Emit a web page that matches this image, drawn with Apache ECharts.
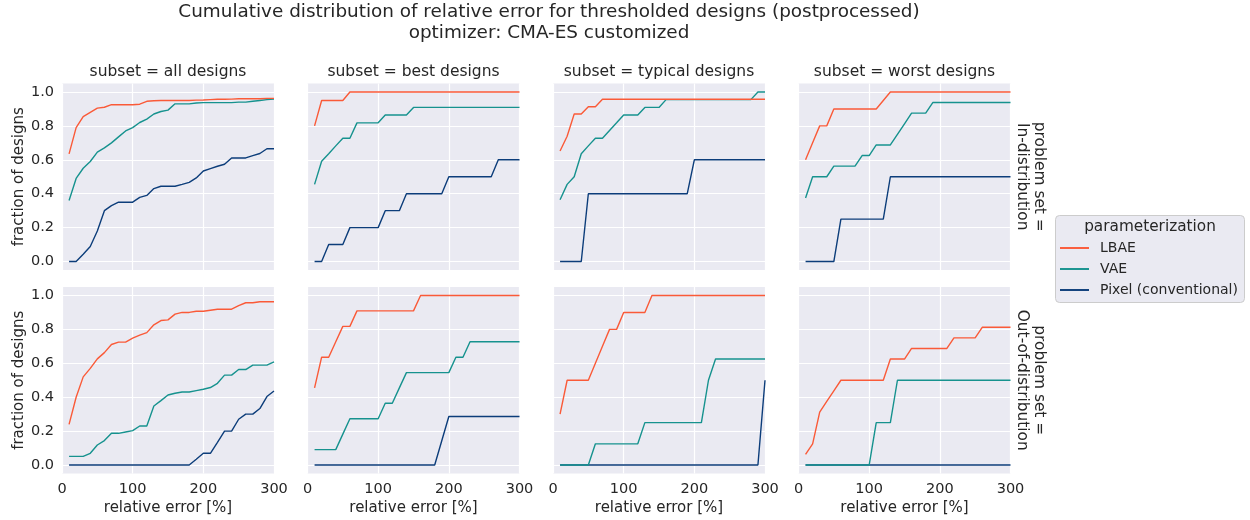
<!DOCTYPE html>
<html><head><meta charset="utf-8">
<script src="https://cdn.jsdelivr.net/npm/echarts@6/dist/echarts.min.js"></script>
<style>html,body{margin:0;padding:0;background:#fff}#c{width:1250px;height:520px}</style>
</head><body><div id="c"></div>
<script>
// ---- data ----
const relErr = [10,20,30,40,50,60,70,80,90,100,110,120,130,140,150,160,170,180,190,200,210,220,230,240,250,260,270,280,290,300];
const subsets = ['all designs','best designs','typical designs','worst designs'];
const problemSets = ['In-distribution','Out-of-distribution'];
const methods = ['LBAE','VAE','Pixel (conventional)'];
const yTicks = [0, 0.2, 0.4, 0.6, 0.8, 1.0];

// In-distribution
const lbae_id_all   = [0.635,0.79,0.855,0.88,0.905,0.91,0.925,0.925,0.925,0.925,0.928,0.945,0.948,0.95,0.95,0.95,0.95,0.95,0.952,0.953,0.955,0.957,0.957,0.958,0.96,0.96,0.96,0.96,0.962,0.962];
const vae_id_all    = [0.36,0.49,0.55,0.59,0.645,0.67,0.70,0.735,0.77,0.79,0.82,0.84,0.87,0.885,0.893,0.93,0.93,0.93,0.935,0.937,0.937,0.937,0.937,0.937,0.94,0.94,0.945,0.95,0.955,0.958];
const pix_id_all    = [0,0,0.043,0.089,0.18,0.30,0.33,0.35,0.35,0.35,0.378,0.39,0.43,0.444,0.444,0.444,0.455,0.467,0.493,0.534,0.548,0.562,0.574,0.611,0.611,0.611,0.625,0.637,0.665,0.665];

const lbae_id_best  = [0.8,0.95,0.95,0.95,0.95,1,1,1,1,1,1,1,1,1,1,1,1,1,1,1,1,1,1,1,1,1,1,1,1,1];
const vae_id_best   = [0.455,0.591,0.636,0.682,0.727,0.727,0.818,0.818,0.818,0.818,0.864,0.864,0.864,0.864,0.909,0.909,0.909,0.909,0.909,0.909,0.909,0.909,0.909,0.909,0.909,0.909,0.909,0.909,0.909,0.909];
const pix_id_best   = [0,0,0.1,0.1,0.1,0.2,0.2,0.2,0.2,0.2,0.3,0.3,0.3,0.4,0.4,0.4,0.4,0.4,0.4,0.5,0.5,0.5,0.5,0.5,0.5,0.5,0.6,0.6,0.6,0.6];

const lbae_id_typ   = [0.652,0.739,0.87,0.87,0.913,0.913,0.957,0.957,0.957,0.957,0.957,0.957,0.957,0.957,0.957,0.957,0.957,0.957,0.957,0.957,0.957,0.957,0.957,0.957,0.957,0.957,0.957,0.957,0.957,0.957];
const vae_id_typ    = [0.364,0.455,0.5,0.636,0.682,0.727,0.727,0.773,0.818,0.864,0.864,0.864,0.909,0.909,0.909,0.955,0.955,0.955,0.955,0.955,0.955,0.955,0.955,0.955,0.955,0.955,0.955,0.955,1,1];
const pix_id_typ    = [0,0,0,0,0.4,0.4,0.4,0.4,0.4,0.4,0.4,0.4,0.4,0.4,0.4,0.4,0.4,0.4,0.4,0.6,0.6,0.6,0.6,0.6,0.6,0.6,0.6,0.6,0.6,0.6];

const lbae_id_worst = [0.6,0.7,0.8,0.8,0.9,0.9,0.9,0.9,0.9,0.9,0.9,0.95,1,1,1,1,1,1,1,1,1,1,1,1,1,1,1,1,1,1];
const vae_id_worst  = [0.375,0.5,0.5,0.5,0.5625,0.5625,0.5625,0.5625,0.625,0.625,0.6875,0.6875,0.6875,0.75,0.8125,0.875,0.875,0.875,0.9375,0.9375,0.9375,0.9375,0.9375,0.9375,0.9375,0.9375,0.9375,0.9375,0.9375,0.9375];
const pix_id_worst  = [0,0,0,0,0,0.25,0.25,0.25,0.25,0.25,0.25,0.25,0.5,0.5,0.5,0.5,0.5,0.5,0.5,0.5,0.5,0.5,0.5,0.5,0.5,0.5,0.5,0.5,0.5,0.5];

// Out-of-distribution
const lbae_ood_all   = [0.24,0.40,0.52,0.57,0.626,0.663,0.711,0.725,0.725,0.748,0.766,0.781,0.827,0.852,0.856,0.89,0.90,0.90,0.907,0.907,0.913,0.919,0.919,0.919,0.94,0.957,0.957,0.963,0.963,0.963];
const vae_ood_all    = [0.051,0.051,0.051,0.069,0.118,0.144,0.187,0.187,0.195,0.203,0.23,0.23,0.348,0.38,0.413,0.423,0.431,0.431,0.439,0.447,0.457,0.482,0.53,0.53,0.563,0.563,0.589,0.589,0.589,0.608];
const pix_ood_all    = [0,0,0,0,0,0,0,0,0,0,0,0,0,0,0,0,0,0,0.034,0.069,0.069,0.134,0.2,0.2,0.27,0.30,0.30,0.333,0.404,0.437];

const lbae_ood_best  = [0.455,0.636,0.636,0.727,0.818,0.818,0.909,0.909,0.909,0.909,0.909,0.909,0.909,0.909,0.909,1,1,1,1,1,1,1,1,1,1,1,1,1,1,1];
const vae_ood_best   = [0.091,0.091,0.091,0.091,0.182,0.273,0.273,0.273,0.273,0.273,0.364,0.364,0.455,0.545,0.545,0.545,0.545,0.545,0.545,0.545,0.636,0.636,0.727,0.727,0.727,0.727,0.727,0.727,0.727,0.727];
const pix_ood_best   = [0,0,0,0,0,0,0,0,0,0,0,0,0,0,0,0,0,0,0.143,0.286,0.286,0.286,0.286,0.286,0.286,0.286,0.286,0.286,0.286,0.286];

const lbae_ood_typ   = [0.3,0.5,0.5,0.5,0.5,0.6,0.7,0.8,0.8,0.9,0.9,0.9,0.9,1,1,1,1,1,1,1,1,1,1,1,1,1,1,1,1,1];
const vae_ood_typ    = [0,0,0,0,0,0.125,0.125,0.125,0.125,0.125,0.125,0.125,0.25,0.25,0.25,0.25,0.25,0.25,0.25,0.25,0.25,0.5,0.625,0.625,0.625,0.625,0.625,0.625,0.625,0.625];
const pix_ood_typ    = [0,0,0,0,0,0,0,0,0,0,0,0,0,0,0,0,0,0,0,0,0,0,0,0,0,0,0,0,0,0.5];

const lbae_ood_worst = [0.0625,0.125,0.3125,0.375,0.4375,0.5,0.5,0.5,0.5,0.5,0.5,0.5,0.625,0.625,0.625,0.6875,0.6875,0.6875,0.6875,0.6875,0.6875,0.75,0.75,0.75,0.75,0.8125,0.8125,0.8125,0.8125,0.8125];
const vae_ood_worst  = [0,0,0,0,0,0,0,0,0,0,0.25,0.25,0.25,0.5,0.5,0.5,0.5,0.5,0.5,0.5,0.5,0.5,0.5,0.5,0.5,0.5,0.5,0.5,0.5,0.5];
const pix_ood_worst  = [0,0,0,0,0,0,0,0,0,0,0,0,0,0,0,0,0,0,0,0,0,0,0,0,0,0,0,0,0,0];

const panelData = [
  [lbae_id_all, vae_id_all, pix_id_all],
  [lbae_id_best, vae_id_best, pix_id_best],
  [lbae_id_typ, vae_id_typ, pix_id_typ],
  [lbae_id_worst, vae_id_worst, pix_id_worst],
  [lbae_ood_all, vae_ood_all, pix_ood_all],
  [lbae_ood_best, vae_ood_best, pix_ood_best],
  [lbae_ood_typ, vae_ood_typ, pix_ood_typ],
  [lbae_ood_worst, vae_ood_worst, pix_ood_worst]
];

// ---- styling / layout ----
const FONT = 'DejaVu Sans';
const TXT = '#262626';
const colors = ['#FA5A38', '#16928E', '#0C3D7A'];
const colLeft = [62, 307.5, 553, 798.5];
const rowTop = [83.5, 287];
const gw = 212, gh = 186.5;

const grids = [], xAxes = [], yAxes = [], series = [], graphics = [];
panelData.forEach((lines, k) => {
  const r = Math.floor(k / 4), c = k % 4;
  grids.push({left: colLeft[c], top: rowTop[r], width: gw, height: gh, show: true,
    backgroundColor: '#EAEAF2', borderWidth: 0});
  xAxes.push({type: 'value', gridIndex: k, min: 0, max: 300, interval: 100,
    axisLine: {show: false}, axisTick: {show: false},
    splitLine: {show: true, lineStyle: {color: '#ffffff', width: 1.2}},
    axisLabel: {show: r === 1, fontFamily: FONT, fontSize: 14.5, color: TXT, margin: 8},
    name: r === 1 ? 'relative error [%]' : '', nameLocation: 'middle', nameGap: 27,
    nameTextStyle: {fontFamily: FONT, fontSize: 15, color: TXT}});
  yAxes.push({type: 'value', gridIndex: k, min: -0.05, max: 1.05,
    axisLine: {show: false},
    axisTick: {show: false, customValues: yTicks},
    splitLine: {show: true, lineStyle: {color: '#ffffff', width: 1.2}},
    axisLabel: {show: c === 0, customValues: yTicks, fontFamily: FONT, fontSize: 14.5, color: TXT, margin: 8,
      formatter: v => v.toFixed(1)},
    name: c === 0 ? 'fraction of designs' : '', nameLocation: 'middle', nameGap: 35,
    nameTextStyle: {fontFamily: FONT, fontSize: 15, color: TXT}});
  lines.forEach((vals, m) => {
    series.push({type: 'line', name: methods[m], xAxisIndex: k, yAxisIndex: k,
      symbol: 'none', color: colors[m], lineStyle: {width: 1.4, color: colors[m]},
      data: relErr.map((x, i) => [x, vals[i]]), z: 3 - m + 2});
  });
});

// subplot titles
subsets.forEach((s, c) => {
  graphics.push({type: 'text', x: colLeft[c] + gw / 2, y: 72,
    style: {text: 'subset = ' + s, fontFamily: FONT, fontSize: 15.5, fill: TXT,
      align: 'center', verticalAlign: 'middle', textAlign: 'center', textVerticalAlign: 'middle'}});
});
// row labels
problemSets.forEach((p, r) => {
  graphics.push({type: 'text', x: 1030, y: rowTop[r] + gh / 2, rotation: -Math.PI / 2,
    style: {text: 'problem set =\n' + p, fontFamily: FONT, fontSize: 15.4, lineHeight: 17, fill: TXT,
      align: 'center', verticalAlign: 'middle', textAlign: 'center', textVerticalAlign: 'middle'}});
});
// main title
graphics.push({type: 'text', x: 549, y: 1.5,
  style: {text: 'Cumulative distribution of relative error for thresholded designs (postprocessed)\noptimizer: CMA-ES customized',
    fontFamily: FONT, fontSize: 18.4, lineHeight: 21, fill: TXT, align: 'center', textAlign: 'center'}});
// legend frame + title
graphics.push({type: 'rect', shape: {x: 1055.5, y: 215.5, width: 189, height: 87, r: 4}, z: -1,
  style: {fill: '#EAEAF2', stroke: '#CCCCCC', lineWidth: 1}});
graphics.push({type: 'text', x: 1150, y: 227,
  style: {text: 'parameterization', fontFamily: FONT, fontSize: 15.3, fill: TXT,
    align: 'center', verticalAlign: 'middle', textAlign: 'center', textVerticalAlign: 'middle'}});

const option = {
  animation: false,
  backgroundColor: '#ffffff',
  grid: grids, xAxis: xAxes, yAxis: yAxes, series: series,
  legend: {data: methods, orient: 'vertical', left: 1060, top: 241, itemWidth: 29, itemHeight: 14, itemGap: 7,
    icon: 'path://M0,0H30V2H0Z', padding: 0,
    textStyle: {fontFamily: FONT, fontSize: 14, color: TXT, padding: [0, 0, 0, 6]}},
  graphic: graphics
};
const chart = echarts.init(document.getElementById('c'), null, {renderer: 'canvas'});
chart.setOption(option);
</script></body></html>
